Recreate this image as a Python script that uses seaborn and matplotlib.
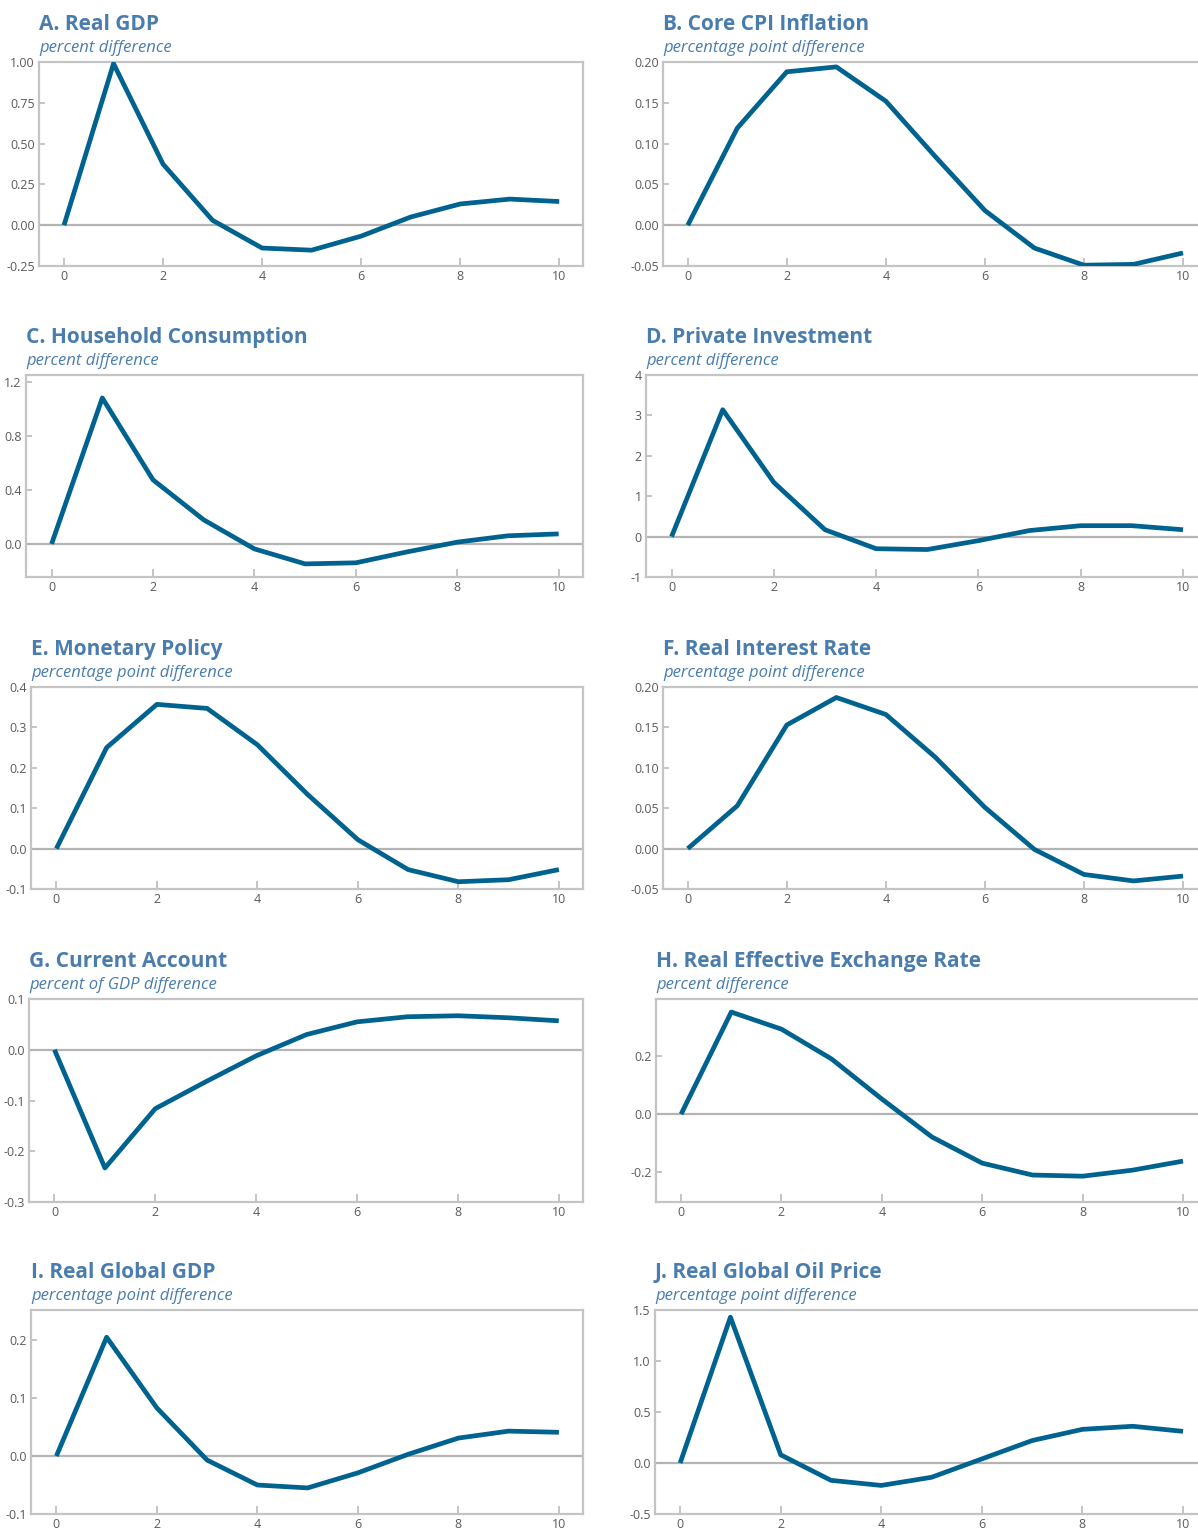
import numpy as np
import pandas as pd
import matplotlib
matplotlib.use("Agg")
import matplotlib.pyplot as plt
import seaborn as sns

periods = list(range(11))

titles = ["A. Real GDP", "B. Core CPI Inflation", "C. Household Consumption",
          "D. Private Investment", "E. Monetary Policy", "F. Real Interest Rate",
          "G. Current Account", "H. Real Effective Exchange Rate",
          "I. Real Global GDP", "J. Real Global Oil Price"]
subtitles = ["percent difference", "percentage point difference", "percent difference",
             "percent difference", "percentage point difference", "percentage point difference",
             "percent of GDP difference", "percent difference",
             "percentage point difference", "percentage point difference"]

real_gdp = [0, 0.99, 0.374, 0.03, -0.14, -0.153, -0.067, 0.05, 0.13, 0.16, 0.145]
core_cpi = [0, 0.119, 0.188, 0.194, 0.152, 0.084, 0.018, -0.028, -0.049, -0.048, -0.034]
household_consumption = [0, 1.08, 0.474, 0.178, -0.037, -0.148, -0.14, -0.06, 0.013, 0.06, 0.074]
private_investment = [0, 3.14, 1.34, 0.17, -0.3, -0.32, -0.1, 0.15, 0.27, 0.27, 0.17]
monetary_policy = [0, 0.25, 0.357, 0.347, 0.257, 0.134, 0.022, -0.052, -0.082, -0.077, -0.052]
real_interest_rate = [0, 0.053, 0.153, 0.187, 0.166, 0.113, 0.051, -0.001, -0.032, -0.04, -0.034]
current_account = [0, -0.233, -0.116, -0.063, -0.012, 0.03, 0.055, 0.065, 0.067, 0.063, 0.057]
reer = [0, 0.352, 0.293, 0.19, 0.052, -0.079, -0.169, -0.21, -0.214, -0.193, -0.162]
real_global_gdp = [0, 0.205, 0.083, -0.007, -0.05, -0.055, -0.029, 0.003, 0.031, 0.043, 0.041]
real_oil_price = [0, 1.43, 0.08, -0.17, -0.22, -0.14, 0.04, 0.22, 0.33, 0.36, 0.31]

series = [real_gdp, core_cpi, household_consumption, private_investment, monetary_policy,
          real_interest_rate, current_account, reer, real_global_gdp, real_oil_price]

yticks = [[-0.25, 0, 0.25, 0.5, 0.75, 1.0],
          [-0.05, 0, 0.05, 0.10, 0.15, 0.20],
          [0, 0.4, 0.8, 1.2],
          [-1, 0, 1, 2, 3, 4],
          [-0.1, 0, 0.1, 0.2, 0.3, 0.4],
          [-0.05, 0, 0.05, 0.10, 0.15, 0.20],
          [-0.3, -0.2, -0.1, 0, 0.1],
          [-0.2, 0, 0.2],
          [-0.1, 0, 0.1, 0.2],
          [-0.5, 0, 0.5, 1.0, 1.5]]
ytick_fmt = ["%.2f", "%.2f", "%.1f", "%d", "%.1f", "%.2f", "%.1f", "%.1f", "%.1f", "%.1f"]
ylims = [(-0.25, 1.0), (-0.05, 0.20), (-0.245, 1.25), (-1, 4), (-0.1, 0.4),
         (-0.05, 0.20), (-0.3, 0.1), (-0.303, 0.397), (-0.1, 0.252), (-0.5, 1.5)]

# layout in pixels: left, top, right, bottom
W, H = 1198, 1531
boxes = [(39, 62, 583, 266), (663, 62, 1200, 266),
         (26, 375, 583, 577), (646, 375, 1200, 577),
         (31, 687, 583, 889), (663, 687, 1200, 889),
         (29, 999, 583, 1202), (656, 999, 1200, 1202),
         (31, 1310, 583, 1514), (655, 1310, 1200, 1514)]

sns.set_theme(style="white")
plt.rcParams['font.family'] = ['Open Sans', 'DejaVu Sans']
plt.rcParams['axes.unicode_minus'] = False

line_color = "#00628f"
title_color = "#4a7dad"
frame_color = "#c4c4c4"
tick_color = "#5a5a5a"

fig = plt.figure(figsize=(W / 100, H / 100), dpi=100)

for i in range(10):
    l, t, r, b = boxes[i]
    ax = fig.add_axes([l / W, 1 - b / H, (r - l) / W, (b - t) / H])
    df = pd.DataFrame({"period": periods, "value": series[i]})
    ax.axhline(0, color="#b4b4b4", lw=1.6, zorder=1)
    sns.lineplot(data=df, x="period", y="value", ax=ax, color=line_color,
                 lw=3.4, zorder=3, solid_capstyle="butt")
    if r > W:
        ax.set_xlim(-0.5, 10 + (1200 - 1183) / ((1183 - (l + 25)) / 10))
    else:
        ax.set_xlim(-0.505, 10.48)
    ax.set_ylim(*ylims[i])
    ax.set_xticks([0, 2, 4, 6, 8, 10])
    ax.set_xticklabels(["0", "2", "4", "6", "8", "10"])
    ax.set_yticks(yticks[i])
    ax.set_yticklabels([ytick_fmt[i] % v for v in yticks[i]])
    ax.set_xlabel("")
    ax.set_ylabel("")
    for s in ax.spines.values():
        s.set_color(frame_color)
        s.set_linewidth(1.6)
    ax.tick_params(axis="both", direction="in", colors=frame_color, width=1.4,
                   labelcolor=tick_color, labelsize=9)
    ax.tick_params(axis="x", length=6, pad=3, bottom=True)
    ax.tick_params(axis="y", length=4, pad=3, left=True)
    fig.text(l / W, 1 - (t - 32) / H, titles[i], fontsize=15, fontweight="bold",
             color=title_color, ha="left", va="baseline")
    fig.text(l / W, 1 - (t - 10) / H, subtitles[i], fontsize=12, fontstyle="italic",
             color=title_color, ha="left", va="baseline")

fig.savefig("out.png", dpi=100, facecolor="white")
